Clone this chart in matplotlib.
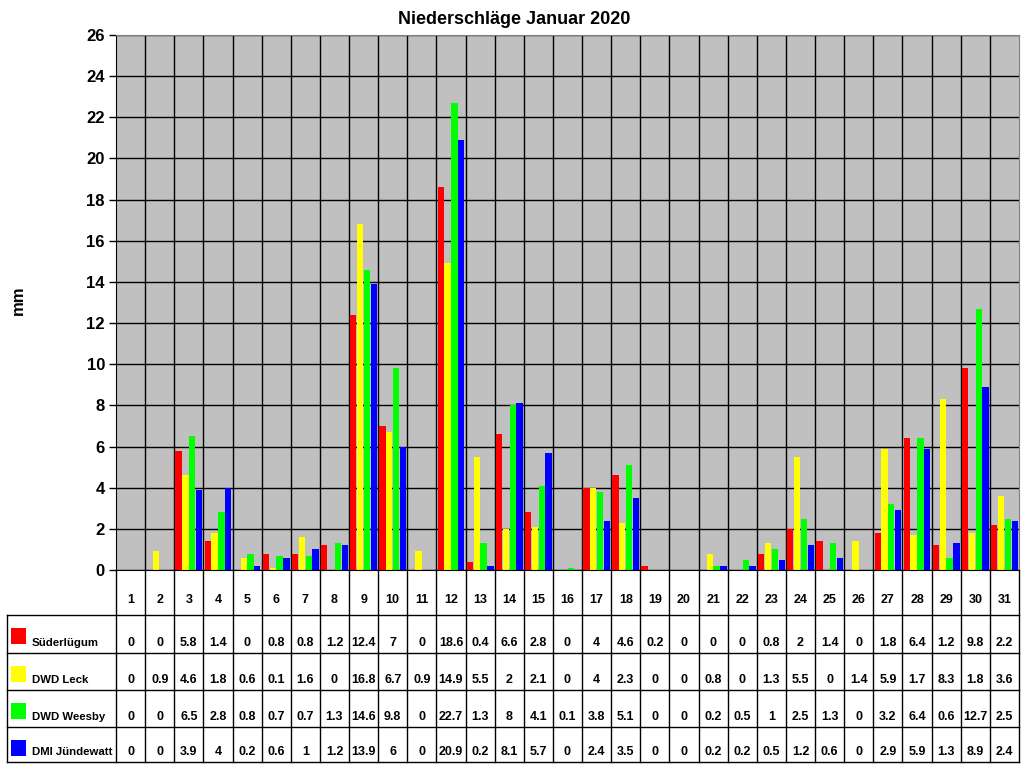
import matplotlib
matplotlib.use("Agg")
import matplotlib.pyplot as plt
import numpy as np
from matplotlib.patches import Rectangle
from matplotlib.lines import Line2D

days = [str(d) for d in range(1, 32)]
suederluegum = [0, 0, 5.8, 1.4, 0, 0.8, 0.8, 1.2, 12.4, 7, 0, 18.6, 0.4, 6.6, 2.8, 0, 4, 4.6, 0.2, 0, 0, 0, 0.8, 2, 1.4, 0, 1.8, 6.4, 1.2, 9.8, 2.2]
dwd_leck = [0, 0.9, 4.6, 1.8, 0.6, 0.1, 1.6, 0, 16.8, 6.7, 0.9, 14.9, 5.5, 2, 2.1, 0, 4, 2.3, 0, 0, 0.8, 0, 1.3, 5.5, 0, 1.4, 5.9, 1.7, 8.3, 1.8, 3.6]
dwd_weesby = [0, 0, 6.5, 2.8, 0.8, 0.7, 0.7, 1.3, 14.6, 9.8, 0, 22.7, 1.3, 8, 4.1, 0.1, 3.8, 5.1, 0, 0, 0.2, 0.5, 1, 2.5, 1.3, 0, 3.2, 6.4, 0.6, 12.7, 2.5]
dmi_juendewatt = [0, 0, 3.9, 4, 0.2, 0.6, 1, 1.2, 13.9, 6, 0, 20.9, 0.2, 8.1, 5.7, 0, 2.4, 3.5, 0, 0, 0.2, 0.2, 0.5, 1.2, 0.6, 0, 2.9, 5.9, 1.3, 8.9, 2.4]

series_names = ["Süderlügum", "DWD Leck", "DWD Weesby", "DMI Jündewatt"]
series_values = [suederluegum, dwd_leck, dwd_weesby, dmi_juendewatt]
series_colors = ["#FF0000", "#FFFF00", "#00FF00", "#0000FF"]
yticks = list(range(0, 27, 2))

W, H = 1024, 768
fig = plt.figure(figsize=(W / 100, H / 100), dpi=100)
fig.patch.set_facecolor("white")

L, R, T, B = 116, 1019, 35, 570
ax = fig.add_axes([L / W, 1 - B / H, (R - L) / W, (B - T) / H])
ax.set_facecolor("#C0C0C0")
n = len(days)
x = np.arange(1, n + 1)
bw = 0.235
offsets = [-1.5, -0.5, 0.5, 1.5]
for vals, col, off in zip(series_values, series_colors, offsets):
    ax.bar(x + off * bw, vals, width=bw * 0.92, color=col, edgecolor="none", zorder=3)

ax.set_xlim(0.5, n + 0.5)
ax.set_ylim(0, 26)
ax.set_yticks(yticks)
ax.set_yticklabels([str(t) for t in yticks], fontsize=12, fontweight="bold", family="Liberation Sans")
ax.set_xticks([])
ax.tick_params(axis="y", length=5, width=1, color="black", pad=3)
for yv in yticks:
    ax.axhline(yv, color="black", lw=1, zorder=1)
for xb in np.arange(1.5, n, 1.0):
    ax.axvline(xb, color="black", lw=1, zorder=1)
for s in ["top", "right"]:
    ax.spines[s].set_color("#808080")
ax.spines["left"].set_color("black")
ax.spines["bottom"].set_color("black")
for s in ax.spines.values():
    s.set_zorder(5)

fig.text(514 / W, 1 - 20 / H, "Niederschläge Januar 2020", ha="center", va="center",
         fontsize=13, fontweight="bold", family="Liberation Sans")
fig.text(18 / W, 1 - 300 / H, "mm", rotation=90, ha="center", va="center",
         fontsize=12, fontweight="bold", family="Liberation Sans")

# table overlay in pixel coordinates
ov = fig.add_axes([0, 0, 1, 1], zorder=10)
ov.set_xlim(0, W)
ov.set_ylim(H, 0)
ov.axis("off")
ov.patch.set_alpha(0)

cw = (R - L) / n
row_lines = [615, 653, 690, 727, 762]
tkw = dict(lw=1, color="black")
for i in range(n + 1):
    xx = L + i * cw
    ov.add_line(Line2D([xx, xx], [B, row_lines[-1]], **tkw))
ov.add_line(Line2D([7, 7], [row_lines[0], row_lines[-1]], **tkw))
for yy in row_lines:
    ov.add_line(Line2D([7, R], [yy, yy], **tkw))

font = dict(fontsize=9, fontweight="bold", family="Liberation Sans")
label_font = dict(fontsize=8.2, fontweight="bold", family="Liberation Sans")
for i, d in enumerate(days):
    ov.text(L + (i + 0.5) * cw, 600, d, ha="center", va="center", **font)

for r, (name, vals, col) in enumerate(zip(series_names, series_values, series_colors)):
    ytxt = row_lines[r + 1] - 10
    ov.add_patch(Rectangle((11, row_lines[r] + 13), 15, 16, facecolor=col, edgecolor="none"))
    ov.text(32, ytxt, name, ha="left", va="center", **label_font)
    for i, v in enumerate(vals):
        s = ("%g" % v)
        ov.text(L + (i + 0.5) * cw, ytxt, s, ha="center", va="center", **font)

fig.savefig("out.png", dpi=100)
